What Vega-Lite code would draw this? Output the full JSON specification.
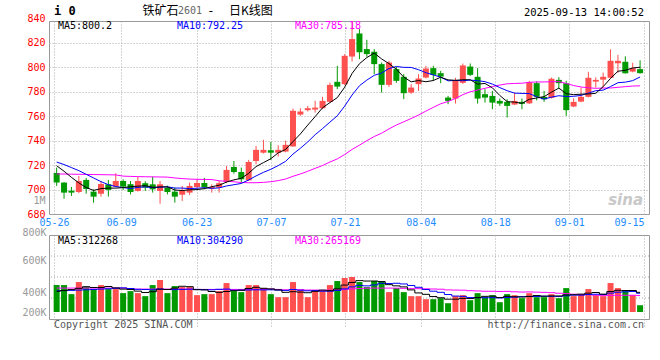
{
"$schema": "https://vega.github.io/schema/vega-lite/v6.json",
"background": "white",
"padding": {"left": 21, "top": 4, "right": 5, "bottom": 2},
"config": {
  "view": {"stroke": "#999999", "strokeWidth": 1},
  "axis": {"labelFont": "DejaVu Sans Mono", "labelFontSize": 10, "ticks": false, "domain": false, "gridColor": "#aaaaaa", "gridDash": [1, 2], "gridWidth": 1, "labelOverlap": false, "labelBound": false},
  "text": {"font": "DejaVu Sans Mono", "fontSize": 10, "baseline": "middle", "align": "left"}
},
"datasets": {"k": [
{"i":0,"o":713.6,"h":718,"l":703,"c":705.7,"m5":719.5,"m10":722.5,"m30":712.8,"v":404000,"vm5":330000,"vm10":335000,"vm30":368000},
{"i":1,"o":705.7,"h":706,"l":692.5,"c":697.5,"m5":715,"m10":720.5,"m30":712.7,"v":404000,"vm5":340000,"vm10":338000,"vm30":368000},
{"i":2,"o":699.1,"h":702.1,"l":694.8,"c":697.5,"m5":710,"m10":718,"m30":712.6,"v":296000,"vm5":350000,"vm10":341000,"vm30":368000},
{"i":3,"o":698,"h":711.1,"l":697,"c":707,"m5":705.5,"m10":715.5,"m30":712.5,"v":440000,"vm5":365000,"vm10":344000,"vm30":368000},
{"i":4,"o":707.9,"h":709.5,"l":696.6,"c":700.5,"m5":701.64,"m10":712.5,"m30":712.4,"v":380000,"vm5":384800,"vm10":348000,"vm30":368000},
{"i":5,"o":698.3,"h":700.2,"l":689.3,"c":694.2,"m5":699.34,"m10":709.5,"m30":712.3,"v":356000,"vm5":375200,"vm10":352000,"vm30":368000},
{"i":6,"o":696.6,"h":707,"l":694.2,"c":704.6,"m5":700.76,"m10":706.5,"m30":712.2,"v":404000,"vm5":375200,"vm10":356000,"vm30":368000},
{"i":7,"o":704.3,"h":707.9,"l":694.2,"c":699.7,"m5":701.2,"m10":704,"m30":712.1,"v":356000,"vm5":387200,"vm10":360000,"vm30":368000},
{"i":8,"o":702.4,"h":713.4,"l":702,"c":707,"m5":701.2,"m10":702.5,"m30":712,"v":356000,"vm5":370400,"vm10":365000,"vm30":368000},
{"i":9,"o":707,"h":708.4,"l":699.7,"c":702.4,"m5":701.58,"m10":701.61,"m30":711,"v":308000,"vm5":356000,"vm10":370400,"vm30":368000},
{"i":10,"o":704.4,"h":707,"l":696.1,"c":698,"m5":702.34,"m10":700.84,"m30":710.8,"v":332000,"vm5":351200,"vm10":363200,"vm30":356000},
{"i":11,"o":698.9,"h":710.3,"l":698.3,"c":707,"m5":702.82,"m10":701.79,"m30":710.6,"v":308000,"vm5":332000,"vm10":353600,"vm30":356000},
{"i":12,"o":705.2,"h":706.8,"l":698.9,"c":701.6,"m5":703.2,"m10":702.2,"m30":710.5,"v":272000,"vm5":315200,"vm10":351200,"vm30":356000},
{"i":13,"o":704.3,"h":710.6,"l":697.5,"c":700.2,"m5":701.84,"m10":701.52,"m30":710.4,"v":404000,"vm5":324800,"vm10":347600,"vm30":356000},
{"i":14,"o":698.9,"h":707,"l":688.4,"c":704.3,"m5":702.22,"m10":701.9,"m30":710.3,"v":464000,"vm5":356000,"vm10":356000,"vm30":356000},
{"i":15,"o":701.6,"h":703.2,"l":696.1,"c":698,"m5":702.22,"m10":702.28,"m30":710.2,"v":308000,"vm5":351200,"vm10":351200,"vm30":356000},
{"i":16,"o":698.3,"h":701.6,"l":689.3,"c":694.2,"m5":699.66,"m10":701.24,"m30":709.5,"v":392000,"vm5":368000,"vm10":350000,"vm30":356000},
{"i":17,"o":695.8,"h":703,"l":690.7,"c":699.4,"m5":699.22,"m10":701.21,"m30":709,"v":380000,"vm5":389600,"vm10":352400,"vm30":356000},
{"i":18,"o":697.5,"h":705.7,"l":695.6,"c":703,"m5":699.78,"m10":700.81,"m30":708.6,"v":380000,"vm5":384800,"vm10":354800,"vm30":356000},
{"i":19,"o":702.1,"h":708.4,"l":701,"c":705.4,"m5":700,"m10":701.11,"m30":708.4,"v":284000,"vm5":348800,"vm10":352400,"vm30":352000},
{"i":20,"o":705.4,"h":709.5,"l":700.2,"c":701.9,"m5":700.78,"m10":701.5,"m30":708.3,"v":296000,"vm5":346400,"vm10":348800,"vm30":352000},
{"i":21,"o":700.7,"h":704.3,"l":697.5,"c":702.1,"m5":702.36,"m10":701.01,"m30":708.2,"v":296000,"vm5":327200,"vm10":347600,"vm30":352000},
{"i":22,"o":701.6,"h":707,"l":697.5,"c":705.2,"m5":703.52,"m10":701.37,"m30":707.2,"v":332000,"vm5":317600,"vm10":353600,"vm30":352000},
{"i":23,"o":706.2,"h":719.3,"l":705.2,"c":716.1,"m5":706.14,"m10":702.96,"m30":706.8,"v":428000,"vm5":327200,"vm10":356000,"vm30":352000},
{"i":24,"o":718.5,"h":723.4,"l":713,"c":714.4,"m5":707.94,"m10":703.97,"m30":706.4,"v":332000,"vm5":336800,"vm10":342800,"vm30":352000},
{"i":25,"o":714.4,"h":718,"l":705.2,"c":708.4,"m5":709.24,"m10":705.01,"m30":705.8,"v":320000,"vm5":341600,"vm10":344000,"vm30":352000},
{"i":26,"o":707.6,"h":724.3,"l":707,"c":722.6,"m5":713.34,"m10":707.85,"m30":705.6,"v":404000,"vm5":363200,"vm10":345200,"vm30":352000},
{"i":27,"o":723.4,"h":735.7,"l":720.7,"c":732.5,"m5":718.8,"m10":711.16,"m30":705.6,"v":404000,"vm5":377600,"vm10":347600,"vm30":352000},
{"i":28,"o":730.2,"h":740.7,"l":729.5,"c":732.5,"m5":722.08,"m10":714.11,"m30":705.9,"v":368000,"vm5":365600,"vm10":346400,"vm30":352000},
{"i":29,"o":732.2,"h":739,"l":724.3,"c":730.2,"m5":725.24,"m10":716.59,"m30":706.44,"v":296000,"vm5":358400,"vm10":347600,"vm30":356800},
{"i":30,"o":730.2,"h":736.3,"l":727,"c":732.5,"m5":730.06,"m10":719.65,"m30":707.33,"v":260000,"vm5":346400,"vm10":344000,"vm30":352000},
{"i":31,"o":731.1,"h":740,"l":730.5,"c":736.6,"m5":732.86,"m10":723.1,"m30":708.63,"v":260000,"vm5":317600,"vm10":340400,"vm30":347200},
{"i":32,"o":735.3,"h":766.3,"l":735,"c":764.5,"m5":739.26,"m10":729.03,"m30":710.87,"v":440000,"vm5":324800,"vm10":351200,"vm30":352000},
{"i":33,"o":761.4,"h":766.6,"l":760.3,"c":763.9,"m5":745.54,"m10":733.81,"m30":712.76,"v":344000,"vm5":320000,"vm10":342800,"vm30":348800},
{"i":34,"o":765,"h":768.5,"l":763.9,"c":766.6,"m5":752.82,"m10":739.03,"m30":714.97,"v":260000,"vm5":312800,"vm10":335600,"vm30":344800},
{"i":35,"o":765.5,"h":772.6,"l":763,"c":767.1,"m5":759.74,"m10":744.9,"m30":717.4,"v":344000,"vm5":329600,"vm10":338000,"vm30":344400},
{"i":36,"o":766.6,"h":775.9,"l":765.8,"c":772.6,"m5":766.94,"m10":749.9,"m30":719.66,"v":332000,"vm5":344000,"vm10":330800,"vm30":342000},
{"i":37,"o":771.8,"h":787.6,"l":771,"c":785.7,"m5":771.18,"m10":755.22,"m30":722.53,"v":404000,"vm5":336800,"vm10":330800,"vm30":343600},
{"i":38,"o":788.2,"h":801.3,"l":782.2,"c":784.3,"m5":775.26,"m10":760.4,"m30":725.11,"v":452000,"vm5":358400,"vm10":339200,"vm30":346800},
{"i":39,"o":786.3,"h":810.9,"l":785.5,"c":809.5,"m5":783.84,"m10":768.33,"m30":728.68,"v":488000,"vm5":404000,"vm10":358400,"vm30":352800},
{"i":40,"o":808.9,"h":837,"l":804.8,"c":823.2,"m5":795.06,"m10":777.4,"m30":732.85,"v":500000,"vm5":435200,"vm10":382400,"vm30":358400},
{"i":41,"o":827.8,"h":831.4,"l":806.8,"c":812.4,"m5":803.02,"m10":784.98,"m30":736.36,"v":440000,"vm5":456800,"vm10":400400,"vm30":362800},
{"i":42,"o":815,"h":822.6,"l":808.7,"c":810.9,"m5":808.06,"m10":789.62,"m30":740.01,"v":380000,"vm5":452000,"vm10":394400,"vm30":366400},
{"i":43,"o":812.8,"h":815,"l":794.5,"c":802.7,"m5":811.74,"m10":793.5,"m30":743.42,"v":452000,"vm5":452000,"vm10":405200,"vm30":368000},
{"i":44,"o":802.7,"h":804,"l":779.4,"c":785.7,"m5":806.98,"m10":795.41,"m30":746.14,"v":452000,"vm5":444800,"vm10":424400,"vm30":367600},
{"i":45,"o":785.7,"h":805.4,"l":784,"c":804,"m5":803.14,"m10":799.1,"m30":749.67,"v":320000,"vm5":408800,"vm10":422000,"vm30":368000},
{"i":46,"o":798.6,"h":800.5,"l":787.4,"c":789,"m5":798.46,"m10":800.74,"m30":752.83,"v":368000,"vm5":394400,"vm10":425600,"vm30":367200},
{"i":47,"o":792.3,"h":794.5,"l":774,"c":778.9,"m5":792.06,"m10":800.06,"m30":755.48,"v":320000,"vm5":382400,"vm10":417200,"vm30":365200},
{"i":48,"o":779.4,"h":786.3,"l":778.4,"c":783.5,"m5":788.22,"m10":799.98,"m30":758.16,"v":272000,"vm5":346400,"vm10":399200,"vm30":361600},
{"i":49,"o":786.3,"h":794.5,"l":780.8,"c":790.9,"m5":789.26,"m10":798.12,"m30":761.01,"v":272000,"vm5":310400,"vm10":377600,"vm30":361200},
{"i":50,"o":791.7,"h":801.3,"l":791,"c":799.1,"m5":788.28,"m10":795.71,"m30":764.25,"v":236000,"vm5":293600,"vm10":351200,"vm30":359200},
{"i":51,"o":799.4,"h":801.3,"l":789,"c":793.9,"m5":789.26,"m10":793.86,"m30":767.31,"v":236000,"vm5":267200,"vm10":330800,"vm30":357200},
{"i":52,"o":795.3,"h":797.2,"l":787.1,"c":792.5,"m5":791.98,"m10":792.02,"m30":770.22,"v":248000,"vm5":252800,"vm10":317600,"vm30":354400},
{"i":53,"o":775.3,"h":776.7,"l":769.9,"c":772.6,"m5":789.8,"m10":789.01,"m30":772.11,"v":188000,"vm5":236000,"vm10":291200,"vm30":346400},
{"i":54,"o":774.5,"h":791.5,"l":770.4,"c":789,"m5":789.42,"m10":789.34,"m30":774.59,"v":272000,"vm5":236000,"vm10":273200,"vm30":344400},
{"i":55,"o":787.4,"h":803.2,"l":786.5,"c":801.6,"m5":789.92,"m10":789.1,"m30":777.7,"v":284000,"vm5":245600,"vm10":269600,"vm30":343200},
{"i":56,"o":800.7,"h":803.2,"l":793,"c":793.9,"m5":789.92,"m10":789.59,"m30":780.08,"v":224000,"vm5":243200,"vm10":255200,"vm30":337200},
{"i":57,"o":792.3,"h":799.4,"l":770.4,"c":774.5,"m5":786.32,"m10":789.15,"m30":781.48,"v":308000,"vm5":255200,"vm10":254000,"vm30":334000},
{"i":58,"o":778.1,"h":782.2,"l":771.2,"c":775.3,"m5":786.86,"m10":788.33,"m30":782.9,"v":260000,"vm5":269600,"vm10":252800,"vm30":330400},
{"i":59,"o":776.7,"h":780.8,"l":765.8,"c":771.2,"m5":783.3,"m10":786.36,"m30":784.27,"v":284000,"vm5":272000,"vm10":254000,"vm30":330000},
{"i":60,"o":772.6,"h":774.5,"l":768.5,"c":770.4,"m5":777.06,"m10":783.49,"m30":785.53,"v":200000,"vm5":255200,"vm10":250400,"vm30":328000},
{"i":61,"o":771.8,"h":774,"l":759,"c":768.5,"m5":771.98,"m10":780.95,"m30":786.6,"v":296000,"vm5":269600,"vm10":256400,"vm30":329200},
{"i":62,"o":769.6,"h":779.4,"l":769.3,"c":772.6,"m5":771.6,"m10":778.96,"m30":786.87,"v":284000,"vm5":264800,"vm10":260000,"vm30":324000},
{"i":63,"o":771.8,"h":774.5,"l":765.8,"c":770.2,"m5":770.58,"m10":778.72,"m30":787.08,"v":248000,"vm5":262400,"vm10":266000,"vm30":320800},
{"i":64,"o":770.6,"h":789,"l":770,"c":787.8,"m5":773.9,"m10":778.6,"m30":787.78,"v":308000,"vm5":267200,"vm10":269600,"vm30":322400},
{"i":65,"o":787.1,"h":788.5,"l":773,"c":775.9,"m5":775,"m10":776.03,"m30":788.08,"v":260000,"vm5":279200,"vm10":267200,"vm30":319600},
{"i":66,"o":775.9,"h":780.8,"l":771.8,"c":773.9,"m5":776.08,"m10":774.03,"m30":788.12,"v":260000,"vm5":272000,"vm10":270800,"vm30":317200},
{"i":67,"o":775.1,"h":791.7,"l":774.5,"c":790.7,"m5":779.7,"m10":775.65,"m30":788.29,"v":296000,"vm5":274400,"vm10":269600,"vm30":313600},
{"i":68,"o":789.8,"h":792,"l":782.5,"c":787.1,"m5":783.08,"m10":776.83,"m30":788.38,"v":248000,"vm5":274400,"vm10":268400,"vm30":306800},
{"i":69,"o":787.1,"h":789,"l":760.3,"c":765,"m5":778.52,"m10":776.21,"m30":786.9,"v":368000,"vm5":286400,"vm10":276800,"vm30":302800},
{"i":70,"o":768,"h":774.7,"l":767.5,"c":771.8,"m5":777.7,"m10":776.35,"m30":785.18,"v":272000,"vm5":288800,"vm10":284000,"vm30":295200},
{"i":71,"o":772,"h":783.5,"l":771.5,"c":775.9,"m5":778.1,"m10":777.09,"m30":783.97,"v":296000,"vm5":296000,"vm10":284000,"vm30":290400},
{"i":72,"o":775.9,"h":796.4,"l":775.5,"c":791.5,"m5":778.26,"m10":778.98,"m30":783.32,"v":356000,"vm5":308000,"vm10":291200,"vm30":289600},
{"i":73,"o":788.4,"h":791.9,"l":783.5,"c":789.8,"m5":778.8,"m10":780.94,"m30":782.89,"v":284000,"vm5":315200,"vm10":294800,"vm30":284000},
{"i":74,"o":790,"h":795.8,"l":783.5,"c":792.3,"m5":784.26,"m10":781.39,"m30":783.11,"v":272000,"vm5":296000,"vm10":291200,"vm30":278000},
{"i":75,"o":791.5,"h":814.8,"l":791,"c":805.4,"m5":790.98,"m10":784.34,"m30":783.16,"v":428000,"vm5":327200,"vm10":308000,"vm30":281600},
{"i":76,"o":803.4,"h":810.3,"l":795.6,"c":805.4,"m5":796.88,"m10":787.49,"m30":783.7,"v":368000,"vm5":341600,"vm10":318800,"vm30":281600},
{"i":77,"o":804.6,"h":809.1,"l":795,"c":795.2,"m5":797.62,"m10":787.94,"m30":784.25,"v":344000,"vm5":339200,"vm10":323600,"vm30":282400},
{"i":78,"o":796.6,"h":803.8,"l":796,"c":799.4,"m5":799.54,"m10":789.17,"m30":784.78,"v":284000,"vm5":339200,"vm10":327200,"vm30":282800},
{"i":79,"o":798.6,"h":805.8,"l":795,"c":795.3,"m5":800.14,"m10":792.2,"m30":784.92,"v":164000,"vm5":317600,"vm10":306800,"vm30":279200}
]},
"bounds": "flush",
"spacing": 21,
"vconcat": [
{
  "width": 600, "height": 193,
  "data": {"name": "k"},
  "layer": [
    {"mark": {"type": "rule", "strokeWidth": 1},
     "encoding": {
       "x": {"field": "i", "type": "quantitative", "title": null,
         "scale": {"domain": [-0.36, 79.53], "nice": false, "zero": false},
         "axis": {"values": [-0.36, 8.73, 18.95, 29.03, 39.05, 49.3, 59.4, 69.4, 79.53], "tickCount": 40,
           "labelExpr": "['05-26','06-09','06-23','07-07','07-21','08-04','08-18','09-01','09-15'][round((datum.value+0.36)/10)]",
           "labelColor": "#1e8cff", "labelFlush": false, "labelPadding": 3, "labelOverlap": false, "labelBound": false,
           "labelAlign": {"condition": {"test": "datum.value > 79", "value": "right"}, "value": "center"},
           "grid": true}},
       "y": {"field": "l", "type": "quantitative", "title": null,
         "scale": {"domain": [680, 838], "nice": false, "zero": false},
         "axis": {"values": [680, 691, 700, 720, 740, 760, 780, 800, 820, 838], "tickCount": 40,
           "labelExpr": "datum.value == 691 ? '1M' : datum.value == 838 ? '840' : datum.label",
           "labelColor": {"condition": {"test": "datum.value == 691", "value": "#999999"}, "value": "#ff0000"},
           "labelBaseline": {"condition": {"test": "datum.value == 838", "value": "alphabetic"}, "value": "middle"},
           "gridOpacity": {"condition": {"test": "datum.value == 691 || datum.value == 838", "value": 0}, "value": 1},
           "labelPadding": 4, "grid": true, "labelOverlap": false, "labelBound": false, "labelFlush": false}},
       "y2": {"field": "h"},
       "color": {"condition": {"test": "datum.c >= datum.o", "value": "#ff5050"}, "value": "#009a00"}}},
    {"mark": {"type": "bar", "width": 6},
     "encoding": {
       "x": {"field": "i", "type": "quantitative"},
       "y": {"field": "o", "type": "quantitative", "title": null},
       "y2": {"field": "c"},
       "color": {"condition": {"test": "datum.c >= datum.o", "value": "#ff5050"}, "value": "#009a00"}}},
    {"mark": {"type": "line", "color": "#ff00ff", "strokeWidth": 1},
     "encoding": {"x": {"field": "i", "type": "quantitative"}, "y": {"field": "m30", "type": "quantitative", "title": null}}},
    {"mark": {"type": "line", "color": "#0000ff", "strokeWidth": 1},
     "encoding": {"x": {"field": "i", "type": "quantitative"}, "y": {"field": "m10", "type": "quantitative", "title": null}}},
    {"mark": {"type": "line", "color": "#000000", "strokeWidth": 1},
     "encoding": {"x": {"field": "i", "type": "quantitative"}, "y": {"field": "m5", "type": "quantitative", "title": null}}},
    {"data": {"values": [{}]}, "mark": {"type": "text", "color": "#000000"},
     "encoding": {"x": {"datum": 0.17}, "y": {"datum": 833.9}, "text": {"value": "MA5:800.2"}}},
    {"data": {"values": [{}]}, "mark": {"type": "text", "color": "#0000ff"},
     "encoding": {"x": {"datum": 16.28}, "y": {"datum": 833.9}, "text": {"value": "MA10:792.25"}}},
    {"data": {"values": [{}]}, "mark": {"type": "text", "color": "#ff00ff"},
     "encoding": {"x": {"datum": 32.26}, "y": {"datum": 833.9}, "text": {"value": "MA30:785.18"}}},
    {"data": {"values": [{}]}, "mark": {"type": "text", "color": "#000000", "fontWeight": "bold", "fontSize": 12},
     "encoding": {"x": {"datum": -0.36}, "y": {"datum": 846.2}, "text": {"value": "i 0"}}},
    {"data": {"values": [{}]}, "mark": {"type": "text", "color": "#000000", "font": "Noto Sans CJK SC", "fontSize": 12},
     "encoding": {"x": {"datum": 11.62}, "y": {"datum": 846.2}, "text": {"value": "铁矿石"}}},
    {"data": {"values": [{}]}, "mark": {"type": "text", "color": "#666666"},
     "encoding": {"x": {"datum": 16.42}, "y": {"datum": 846.0}, "text": {"value": "2601"}}},
    {"data": {"values": [{}]}, "mark": {"type": "text", "color": "#000000", "fontSize": 12},
     "encoding": {"x": {"datum": 20.4}, "y": {"datum": 846.2}, "text": {"value": "-"}}},
    {"data": {"values": [{}]}, "mark": {"type": "text", "color": "#000000", "font": "Noto Sans CJK SC", "fontSize": 12},
     "encoding": {"x": {"datum": 23.34}, "y": {"datum": 846.2}, "text": {"value": "日K线图"}}},
    {"data": {"values": [{}]}, "mark": {"type": "text", "color": "#000000", "align": "right", "fontSize": 10.5},
     "encoding": {"x": {"datum": 79.53}, "y": {"datum": 844.5}, "text": {"value": "2025-09-13 14:00:52"}}},
    {"data": {"values": [{}]}, "mark": {"type": "text", "color": "#c8c8c8", "align": "right", "font": "DejaVu Sans", "fontSize": 15, "fontWeight": "bold", "fontStyle": "italic"},
     "encoding": {"x": {"datum": 79.4}, "y": {"datum": 691.5}, "text": {"value": "sina"}}}
  ]
},
{
  "width": 600, "height": 84,
  "data": {"name": "k"},
  "layer": [
    {"data": {"values": [{}]}, "mark": {"type": "rule", "color": "#aaaaaa", "strokeDash": [1, 2]},
     "encoding": {"y": {"datum": 250000}}},
    {"data": {"values": [{}]}, "mark": {"type": "rule", "color": "#aaaaaa", "strokeDash": [1, 2]},
     "encoding": {"y": {"datum": 500000}}},
    {"data": {"values": [{}]}, "mark": {"type": "rule", "color": "#aaaaaa", "strokeDash": [1, 2]},
     "encoding": {"y": {"datum": 750000}}},
    {"mark": {"type": "bar", "width": 6},
     "encoding": {
       "x": {"field": "i", "type": "quantitative", "title": null,
         "scale": {"domain": [-0.36, 79.53], "nice": false, "zero": false},
         "axis": {"values": [-0.36, 8.73, 18.95, 29.03, 39.05, 49.3, 59.4, 69.4, 79.53], "tickCount": 40,
           "labels": false, "grid": true, "ticks": true, "tickSize": 7, "tickColor": "#aaaaaa", "tickDash": [1, 2]}},
       "y": {"field": "v", "type": "quantitative", "title": null,
         "scale": {"domain": [0, 1000000], "nice": false, "zero": false},
         "axis": {"values": [83300, 321400, 690500, 1000000], "tickCount": 40,
           "labelExpr": "datum.value > 900000 ? '800K' : datum.value > 600000 ? '600K' : datum.value > 300000 ? '400K' : '200K'",
           "labelBaseline": {"condition": {"test": "datum.value > 900000", "value": "alphabetic"}, "value": "middle"},
           "labelColor": "#999999", "grid": false, "labelPadding": 3, "labelOverlap": false, "labelBound": false, "labelFlush": false}},
       "y2": {"datum": 83300},
       "color": {"condition": {"test": "datum.c >= datum.o", "value": "#ff5050"}, "value": "#009a00"}}},
    {"mark": {"type": "line", "color": "#ff00ff", "strokeWidth": 1, "interpolate": "step"},
     "encoding": {"x": {"field": "i", "type": "quantitative"}, "y": {"field": "vm30", "type": "quantitative", "title": null}}},
    {"mark": {"type": "line", "color": "#0000ff", "strokeWidth": 1, "interpolate": "step"},
     "encoding": {"x": {"field": "i", "type": "quantitative"}, "y": {"field": "vm10", "type": "quantitative", "title": null}}},
    {"mark": {"type": "line", "color": "#000000", "strokeWidth": 1, "interpolate": "step"},
     "encoding": {"x": {"field": "i", "type": "quantitative"}, "y": {"field": "vm5", "type": "quantitative", "title": null}}},
    {"data": {"values": [{}]}, "mark": {"type": "text", "color": "#000000"},
     "encoding": {"x": {"datum": 0.17}, "y": {"datum": 928600}, "text": {"value": "MA5:312268"}}},
    {"data": {"values": [{}]}, "mark": {"type": "text", "color": "#0000ff"},
     "encoding": {"x": {"datum": 16.28}, "y": {"datum": 928600}, "text": {"value": "MA10:304290"}}},
    {"data": {"values": [{}]}, "mark": {"type": "text", "color": "#ff00ff"},
     "encoding": {"x": {"datum": 32.26}, "y": {"datum": 928600}, "text": {"value": "MA30:265169"}}},
    {"data": {"values": [{}]}, "mark": {"type": "text", "color": "#555555"},
     "encoding": {"x": {"datum": -0.36}, "y": {"datum": -65500}, "text": {"value": "Copyright 2025 SINA.COM"}}},
    {"data": {"values": [{}]}, "mark": {"type": "text", "color": "#555555", "align": "right"},
     "encoding": {"x": {"datum": 79.53}, "y": {"datum": -65500}, "text": {"value": "http://finance.sina.com.cn"}}}
  ]
}
]
}
